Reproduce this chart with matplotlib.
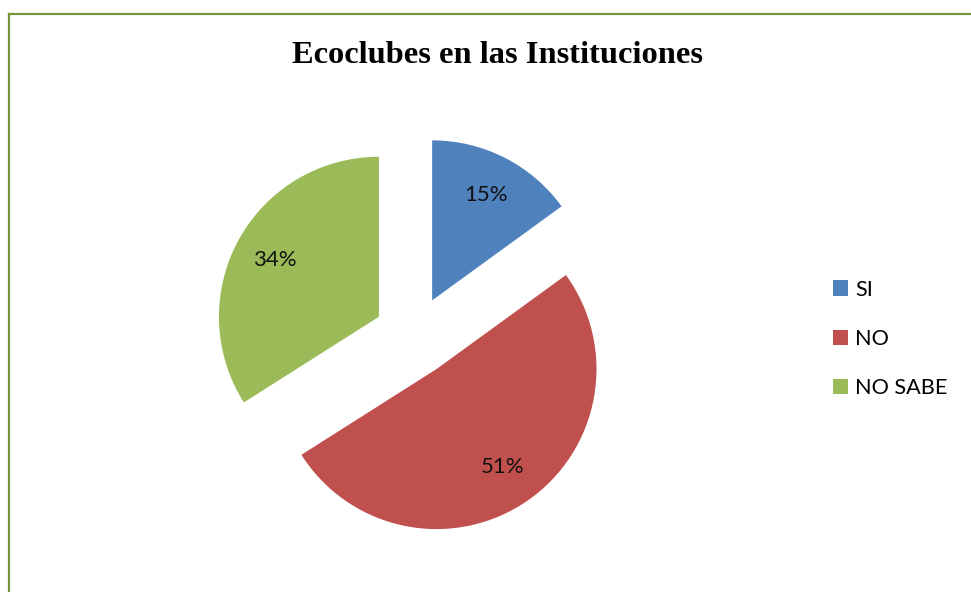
import matplotlib.pyplot as plt
from matplotlib.lines import Line2D

# ========================================
# Data
# ========================================
categories = ['SI', 'NO', 'NO SABE']
shares = [15, 51, 34]
colors = ['#4F81BD', '#C0504D', '#9BBB59']
title = 'Ecoclubes en las Instituciones'

# ========================================
# Figure
# ========================================
W, H = 971, 592
fig = plt.figure(figsize=(W / 100, H / 100), dpi=100)
fig.patch.set_facecolor('white')

# pie axes: centre ~ (414, 336) px, radius ~160 px
r_px = 160
span = 1.3
size = 2 * span * r_px
cx, cy = 414, 336
ax = fig.add_axes([(cx - size / 2) / W, (H - cy - size / 2) / H, size / W, size / H])

wedges, texts, autotexts = ax.pie(
    shares, colors=colors, startangle=90, counterclock=False,
    explode=[0.25] * len(shares), autopct='%1.0f%%', pctdistance=0.74,
    wedgeprops=dict(linewidth=0),
    textprops=dict(family='Lato', fontsize=16, color='#111111'))
ax.set_xlim(-span, span)
ax.set_ylim(-span, span)
ax.set_aspect('equal')
ax.axis('off')

# title
fig.text(497.5 / W, 1 - 63 / H, title, ha='center', va='baseline',
         family='Liberation Serif', fontweight='bold', fontsize=23.4)

# legend
fig.legend(wedges, categories, loc='center left',
           bbox_to_anchor=(833 / W, 1 - 339 / H), frameon=False,
           prop=dict(family='Lato', size=15.6), handlelength=0.7,
           handleheight=0.7, handletextpad=0.33, labelspacing=1.36,
           borderpad=0, borderaxespad=0)

# green border on left and top
border = '#77933C'
fig.add_artist(Line2D([8.5 / W, 8.5 / W], [0, 1 - 13.5 / H], color=border,
                      linewidth=1.6, transform=fig.transFigure))
fig.add_artist(Line2D([8.5 / W, 1], [1 - 13.5 / H, 1 - 13.5 / H], color=border,
                      linewidth=1.6, transform=fig.transFigure))

plt.savefig('out.png', dpi=100)
